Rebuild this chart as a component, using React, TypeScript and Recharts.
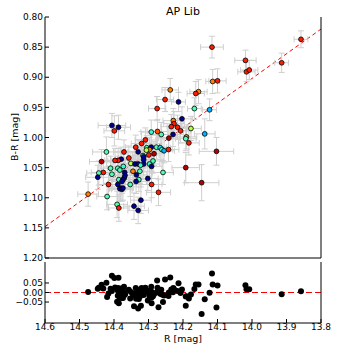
import { ScatterChart, Scatter, XAxis, YAxis, ErrorBar, ReferenceLine } from "recharts";

// [R, B-R, colour value (0..1, jet), R error, B-R error]
type Star = [number, number, number, number, number];

const stars: Star[] = [
  [13.858, 0.837, 0.85, 0.02, 0.014],
  [14.116, 0.85, 0.85, 0.033, 0.018],
  [14.019, 0.872, 0.85, 0.031, 0.017],
  [13.914, 0.876, 0.85, 0.02, 0.016],
  [14.016, 0.891, 0.85, 0.025, 0.016],
  [14.008, 0.888, 0.85, 0.025, 0.016],
  [14.114, 0.907, 0.75, 0.02, 0.02],
  [14.1, 0.906, 0.85, 0.025, 0.02],
  [14.237, 0.921, 0.75, 0.024, 0.019],
  [14.155, 0.924, 0.75, 0.025, 0.02],
  [14.163, 0.927, 0.85, 0.025, 0.02],
  [14.252, 0.937, 0.85, 0.025, 0.02],
  [14.213, 0.941, 0.02, 0.02, 0.016],
  [14.275, 0.952, 0.85, 0.025, 0.02],
  [14.167, 0.952, 0.45, 0.02, 0.018],
  [14.123, 0.954, 0.3, 0.02, 0.018],
  [14.203, 0.969, 0.02, 0.03, 0.02],
  [14.228, 0.972, 0.75, 0.03, 0.02],
  [14.226, 0.977, 0.85, 0.03, 0.02],
  [14.234, 0.982, 0.85, 0.03, 0.02],
  [14.216, 0.983, 0.85, 0.03, 0.02],
  [14.177, 0.985, 0.55, 0.03, 0.02],
  [14.207, 0.989, 0.85, 0.03, 0.02],
  [14.274, 0.99, 0.8, 0.03, 0.02],
  [14.292, 0.991, 0.42, 0.03, 0.02],
  [14.263, 0.995, 0.45, 0.03, 0.02],
  [14.137, 0.994, 0.3, 0.03, 0.025],
  [14.229, 0.995, 0.02, 0.03, 0.02],
  [14.241, 1.001, 0.95, 0.03, 0.02],
  [14.19, 0.999, 0.75, 0.03, 0.02],
  [14.192, 1.002, 0.45, 0.03, 0.02],
  [14.183, 1.009, 0.85, 0.03, 0.02],
  [14.103, 1.023, 0.95, 0.05, 0.023],
  [14.146, 1.075, 0.95, 0.05, 0.03],
  [14.406, 0.98, 0.02, 0.04, 0.02],
  [14.387, 0.983, 0.02, 0.035, 0.02],
  [14.399, 0.989, 0.85, 0.03, 0.025],
  [14.309, 1.004, 0.85, 0.03, 0.02],
  [14.32, 1.01, 0.85, 0.03, 0.02],
  [14.337, 1.016, 0.85, 0.03, 0.02],
  [14.305, 1.017, 0.45, 0.03, 0.02],
  [14.292, 1.016, 0.02, 0.03, 0.02],
  [14.277, 1.016, 0.45, 0.03, 0.02],
  [14.266, 1.017, 0.35, 0.03, 0.02],
  [14.261, 1.02, 0.45, 0.03, 0.02],
  [14.255, 1.022, 0.3, 0.03, 0.02],
  [14.242, 1.02, 0.85, 0.03, 0.02],
  [14.33, 1.024, 0.02, 0.03, 0.02],
  [14.297, 1.02, 0.75, 0.03, 0.02],
  [14.306, 1.021, 0.55, 0.03, 0.02],
  [14.422, 1.024, 0.45, 0.04, 0.025],
  [14.371, 1.024, 0.85, 0.03, 0.02],
  [14.284, 1.027, 0.95, 0.03, 0.02],
  [14.316, 1.03, 0.42, 0.03, 0.02],
  [14.299, 1.029, 0.85, 0.03, 0.02],
  [14.314, 1.032, 0.02, 0.03, 0.02],
  [14.357, 1.034, 0.85, 0.03, 0.02],
  [14.314, 1.037, 0.02, 0.03, 0.02],
  [14.379, 1.036, 0.02, 0.03, 0.02],
  [14.388, 1.038, 0.85, 0.03, 0.02],
  [14.397, 1.038, 0.85, 0.03, 0.02],
  [14.436, 1.04, 0.95, 0.035, 0.02],
  [14.287, 1.039, 0.45, 0.03, 0.02],
  [14.351, 1.043, 0.55, 0.03, 0.02],
  [14.339, 1.044, 0.02, 0.03, 0.02],
  [14.33, 1.044, 0.02, 0.03, 0.02],
  [14.314, 1.044, 0.02, 0.03, 0.02],
  [14.297, 1.044, 0.42, 0.03, 0.02],
  [14.323, 1.046, 0.42, 0.03, 0.02],
  [14.373, 1.048, 0.42, 0.03, 0.02],
  [14.291, 1.048, 0.02, 0.03, 0.02],
  [14.389, 1.051, 0.45, 0.03, 0.02],
  [14.41, 1.051, 0.45, 0.03, 0.02],
  [14.383, 1.054, 0.45, 0.03, 0.02],
  [14.325, 1.056, 0.45, 0.03, 0.02],
  [14.345, 1.056, 0.75, 0.03, 0.02],
  [14.431, 1.058, 0.85, 0.035, 0.02],
  [14.258, 1.058, 0.45, 0.03, 0.02],
  [14.192, 1.05, 0.95, 0.04, 0.025],
  [14.369, 1.058, 0.02, 0.03, 0.02],
  [14.444, 1.059, 0.45, 0.035, 0.02],
  [14.447, 1.066, 0.02, 0.035, 0.02],
  [14.406, 1.061, 0.45, 0.03, 0.02],
  [14.368, 1.063, 0.02, 0.03, 0.02],
  [14.335, 1.062, 0.02, 0.03, 0.02],
  [14.37, 1.067, 0.02, 0.03, 0.02],
  [14.302, 1.068, 0.02, 0.03, 0.02],
  [14.386, 1.07, 0.45, 0.03, 0.02],
  [14.374, 1.07, 0.02, 0.03, 0.02],
  [14.328, 1.07, 0.45, 0.03, 0.02],
  [14.377, 1.073, 0.02, 0.03, 0.02],
  [14.336, 1.073, 0.02, 0.03, 0.02],
  [14.389, 1.078, 0.02, 0.03, 0.02],
  [14.416, 1.078, 0.85, 0.03, 0.02],
  [14.353, 1.078, 0.45, 0.03, 0.02],
  [14.291, 1.078, 0.85, 0.03, 0.022],
  [14.381, 1.084, 0.02, 0.03, 0.02],
  [14.383, 1.085, 0.02, 0.03, 0.02],
  [14.377, 1.086, 0.02, 0.03, 0.02],
  [14.374, 1.084, 0.02, 0.03, 0.02],
  [14.271, 1.091, 0.85, 0.035, 0.022],
  [14.475, 1.094, 0.75, 0.03, 0.02],
  [14.42, 1.098, 0.45, 0.03, 0.022],
  [14.322, 1.104, 0.02, 0.03, 0.022],
  [14.342, 1.114, 0.02, 0.03, 0.022],
  [14.391, 1.111, 0.45, 0.03, 0.022],
  [14.386, 1.117, 0.85, 0.03, 0.022],
  [14.33, 1.121, 0.02, 0.03, 0.022],
];

// dashed fit line, given by its two ends
const fitR = [14.6, 13.8];
const fitBR = [1.148, 0.82];

const rTicks = [14.6, 14.5, 14.4, 14.3, 14.2, 14.1, 14.0, 13.9, 13.8];
const brTicks = [0.8, 0.85, 0.9, 0.95, 1.0, 1.05, 1.1, 1.15, 1.2];
const residTicks = [-0.05, 0, 0.05];

const FONT = "DejaVu Sans, sans-serif";
const tickStyle = { fontSize: 9, fill: "#000", fontFamily: FONT };
const axisLine = { stroke: "#000", strokeWidth: 1 };

function jet(v: number) {
  const c = (x: number) => Math.round(255 * Math.min(1, Math.max(0, 1.5 - Math.abs(x))));
  return `rgb(${c(4 * v - 3)},${c(4 * v - 2)},${c(4 * v - 1)})`;
}

function fitAt(r: number) {
  const t = (r - fitR[0]) / (fitR[1] - fitR[0]);
  return fitBR[0] + t * (fitBR[1] - fitBR[0]);
}

const points = stars.map(([r, br, z, er, ebr]) => ({ r, br, z, er, ebr, res: fitAt(r) - br }));

const fmtMinus = (v: number) => v.toFixed(2).replace("-", "\u2212");

const StarDot = (p: any) => (
  <circle cx={p.cx} cy={p.cy} r={2.4} fill={jet(p.payload.z)} stroke="#000" strokeWidth={0.8} />
);
const ResidDot = (p: any) => <circle cx={p.cx} cy={p.cy} r={3} fill="#000" />;

export default function App() {
  return (
    <div style={{ position: "fixed", left: 0, top: 0, width: 357, height: 357, background: "#fff" }}>
      <div style={{ position: "absolute", left: 0, top: 0 }}>
        <ScatterChart width={357} height={262} margin={{ top: 17, right: 35, bottom: 0, left: 0 }}>
          <XAxis xAxisId="b" type="number" dataKey="r" domain={[13.8, 14.6]} reversed ticks={rTicks}
            tick={false} tickSize={-4} height={4} axisLine={axisLine} tickLine={axisLine} />
          <XAxis xAxisId="t" orientation="top" type="number" dataKey="r" domain={[13.8, 14.6]} reversed
            ticks={rTicks} tick={false} tickSize={-4} height={0} axisLine={axisLine} tickLine={axisLine} />
          <YAxis yAxisId="l" type="number" dataKey="br" domain={[0.8, 1.2]} reversed ticks={brTicks}
            tickFormatter={(v: number) => v.toFixed(2)} tickSize={-4} tickMargin={6} width={45}
            tick={tickStyle} axisLine={axisLine} tickLine={axisLine} interval={0} />
          <YAxis yAxisId="r" orientation="right" type="number" dataKey="br" domain={[0.8, 1.2]} reversed
            ticks={brTicks} tick={false} tickSize={-4} width={1} axisLine={axisLine} tickLine={axisLine} />
          <ReferenceLine xAxisId="b" yAxisId="l"
            segment={[{ x: fitR[0], y: fitBR[0] }, { x: fitR[1], y: fitBR[1] }]}
            stroke="#ff0000" strokeDasharray="4 3" strokeWidth={1} />
          <Scatter xAxisId="b" yAxisId="l" data={points} shape={StarDot} isAnimationActive={false}>
            <ErrorBar dataKey="er" direction="x" stroke="#cfcfcf" strokeWidth={1} width={3} />
            <ErrorBar dataKey="ebr" direction="y" stroke="#cfcfcf" strokeWidth={1} width={3} />
          </Scatter>
        </ScatterChart>
      </div>
      <div style={{ position: "absolute", left: 0, top: 258 }}>
        <ScatterChart width={357} height={99} margin={{ top: 4, right: 35, bottom: 0, left: 0 }}>
          <XAxis xAxisId="b" type="number" dataKey="r" domain={[13.8, 14.6]} reversed ticks={rTicks}
            tickFormatter={(v: number) => v.toFixed(1)} tick={tickStyle} tickSize={-4} tickMargin={5}
            height={34} axisLine={axisLine} tickLine={axisLine} interval={0} />
          <XAxis xAxisId="t" orientation="top" type="number" dataKey="r" domain={[13.8, 14.6]} reversed
            ticks={rTicks} tick={false} tickSize={-4} height={0} axisLine={axisLine} tickLine={axisLine} />
          <YAxis yAxisId="l" type="number" dataKey="res" domain={[-0.16, 0.16]} ticks={residTicks}
            tickFormatter={fmtMinus} tickSize={-4} tickMargin={6} width={45} tick={tickStyle}
            axisLine={axisLine} tickLine={axisLine} interval={0} />
          <YAxis yAxisId="r" orientation="right" type="number" dataKey="res" domain={[-0.16, 0.16]}
            ticks={residTicks} tick={false} tickSize={-4} width={1} axisLine={axisLine} tickLine={axisLine} />
          <ReferenceLine xAxisId="b" yAxisId="l" y={0} stroke="#ff0000" strokeDasharray="6 3" strokeWidth={1} />
          <Scatter xAxisId="b" yAxisId="l" data={points} dataKey="res" shape={ResidDot} isAnimationActive={false} />
        </ScatterChart>
      </div>
      <svg width={357} height={357} style={{ position: "absolute", left: 0, top: 0, pointerEvents: "none" }}>
        <text x={183} y={15} textAnchor="middle" fontFamily={FONT} fontSize={11}>AP Lib</text>
        <text x={0} y={0} transform="translate(18,137) rotate(-90)" textAnchor="middle" fontFamily={FONT} fontSize={9.5}>
          B-R [mag]
        </text>
        <text x={183} y={342} textAnchor="middle" fontFamily={FONT} fontSize={9.5}>R [mag]</text>
      </svg>
    </div>
  );
}
